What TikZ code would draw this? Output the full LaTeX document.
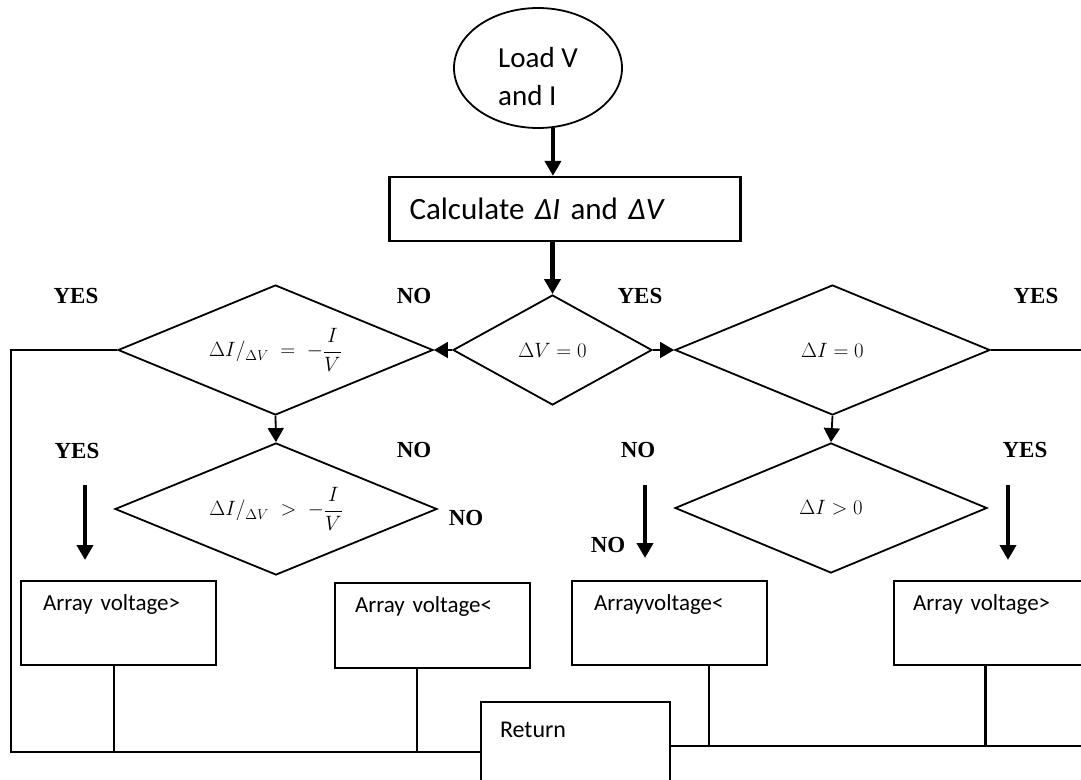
\documentclass[tikz,border=0pt]{standalone}
\usepackage{fontspec}
\newfontfamily\boxfont{Carlito}
\newfontfamily\tagfont{Liberation Serif}
\usetikzlibrary{shapes.geometric,arrows.meta,calc}

\begin{document}
\begin{tikzpicture}[x=1pt,y=-1pt,
  decision/.style={diamond, draw, line width=1.8pt, inner sep=0pt, aspect=2.4,
    font=\fontsize{20}{24}\selectfont},
  procbox/.style={rectangle, draw, line width=2.2pt, inner ysep=0pt, align=left,
    font=\boxfont\fontsize{23}{27}\selectfont},
  tag/.style={font=\tagfont\bfseries\fontsize{23}{27}\selectfont, inner sep=0pt},
  heavy/.style={line width=4.8pt, -{Triangle[width=16pt,length=15pt]}},
  light/.style={line width=1.8pt, -{Triangle[width=16pt,length=14pt]}},
  wire/.style={line width=2.2pt}
]
\clip (0,0) rectangle (1081,779);
\fill[white] (0,0) rectangle (1081,779);

% start and first step
\node[ellipse, draw, line width=1.8pt, minimum width=168pt, minimum height=120pt,
  inner sep=0pt, align=left, text height=74pt, text depth=0pt,
  font=\boxfont\fontsize{29}{38}\selectfont]
  (load) at (538,68) {Load V\\and I};
\node[procbox, font=\boxfont\fontsize{31}{36}\selectfont, minimum width=351pt,
  minimum height=64pt, text width=311pt, inner xsep=20pt]
  (calc) at (565,209) {Calculate \textit{ΔI} and \textit{ΔV}};

% decisions
\node[decision, minimum width=315pt, minimum height=130pt] (d1) at (275.5,350)
  {$\Delta I/_{\Delta V} \;=\; -{\displaystyle\frac{I}{V}}$};
\node[decision, minimum width=199pt, minimum height=110pt] (d0) at (552.5,350)
  {$\Delta V = 0$};
\node[decision, minimum width=315pt, minimum height=130pt] (d2) at (832.5,350)
  {$\Delta I = 0$};
\node[decision, minimum width=322pt, minimum height=132pt] (d3) at (276,509)
  {$\Delta I/_{\Delta V} \;>\; -{\displaystyle\frac{I}{V}}$};
\node[decision, minimum width=312pt, minimum height=130pt] (d4) at (831,508)
  {$\Delta I > 0$};

% actions
\node[procbox, minimum width=195pt, text width=151pt, inner xsep=22pt,
  text height=29pt, text depth=55pt] (b1) at (118.5,623) {Array voltage>};
\node[procbox, minimum width=195pt, text width=155pt, inner xsep=20pt,
  text height=29pt, text depth=56pt] (b2) at (432.5,625.5) {Array voltage<};
\node[procbox, minimum width=195pt, text width=151pt, inner xsep=22pt,
  text height=29pt, text depth=55pt] (b3) at (669.5,623) {Arrayvoltage<};
\node[procbox, minimum width=195pt, text width=157pt, inner xsep=19pt,
  text height=29pt, text depth=55pt] (b4) at (991.5,623) {Array voltage>};
\node[procbox, font=\boxfont\fontsize{24}{28}\selectfont, minimum width=189pt,
  text width=151pt, inner xsep=19pt, text height=35pt, text depth=75pt]
  (ret) at (575.5,757) {Return};

% branch labels
\node[tag] (t1) at (76,296) {YES};
\node[tag] (t2) at (414,296) {NO};
\node[tag] (t3) at (640,296) {YES};
\node[tag] (t4) at (1036,296) {YES};
\node[tag] (t5) at (77,451) {YES};
\node[tag] (t6) at (414,450) {NO};
\node[tag] (t7) at (638,450) {NO};
\node[tag] (t8) at (1025,450) {YES};
\node[tag] (t9) at (466,518) {NO};
\node[tag] (t10) at (608,545) {NO};

% rails and anchor points
\coordinate (westrail) at (11,752);
\coordinate (eastrail) at (1081,746);
\coordinate (edge) at (1081,350);
\coordinate (s1) at ($(b1.south west)!0.477!(b1.south east)$);
\coordinate (s2) at ($(b2.south west)!0.42!(b2.south east)$);
\coordinate (s3) at ($(b3.south west)!0.70!(b3.south east)$);
\coordinate (s4) at ($(b4.south west)!0.47!(b4.south east)$);
\coordinate (f1a) at (85,485);   \coordinate (f1b) at (85,560);
\coordinate (f2a) at (645,485);  \coordinate (f2b) at (645,558);
\coordinate (f3a) at (1008,485); \coordinate (f3b) at (1008,560);

% flow
\draw[heavy] (load.284) -- (load.284 |- calc.north);
\draw[heavy] (calc.south -| d0.north) -- (d0.north);
\draw[light] (d0.west) -- (d1.east);
\draw[light] (d0.east) -- (d2.west);
\draw[light] (d1.south) -- (d3.north);
\draw[light] (d2.south) -- (d4.north);
\draw[heavy] (f1a) -- (f1b);
\draw[heavy] (f2a) -- (f2b);
\draw[heavy] (f3a) -- (f3b);

\draw[wire] (d1.west) -| (westrail) -- (westrail -| ret.west);
\draw[wire] (d2.east) -- (edge);
\draw[wire] (ret.east |- eastrail) -- (eastrail);
\draw[wire] (s1) -- (s1 |- westrail);
\draw[wire] (s2) -- (s2 |- westrail);
\draw[wire] (s3) -- (s3 |- eastrail);
\draw[wire] (s4) -- (s4 |- eastrail);
\end{tikzpicture}
\end{document}
